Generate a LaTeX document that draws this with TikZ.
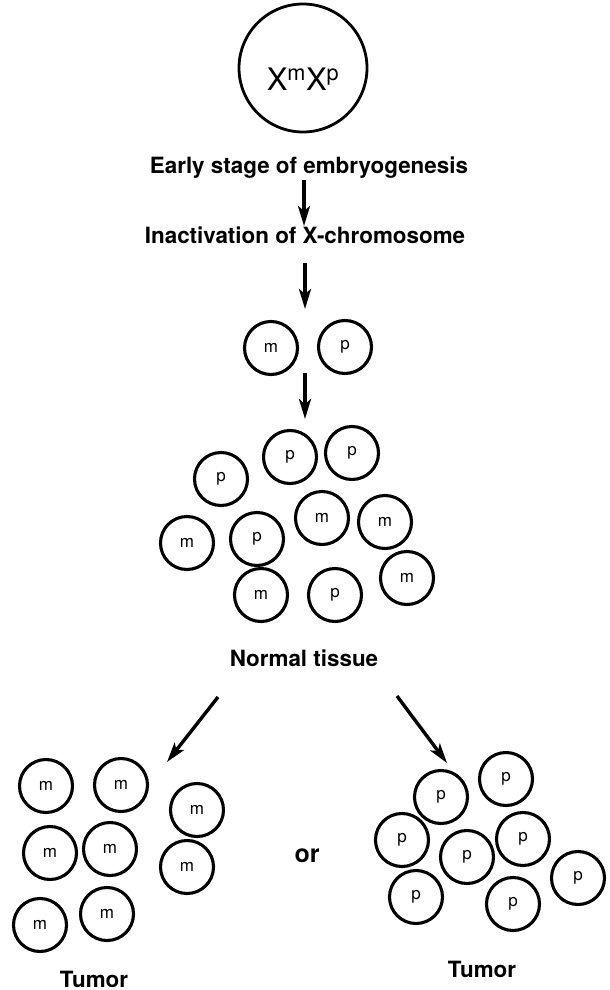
\documentclass[tikz,border=0pt]{standalone}
\usepackage{fontspec}
\setmainfont{TeX Gyre Heros}
\usetikzlibrary{arrows.meta}
\begin{document}
\begin{tikzpicture}[x=1pt,y=-1pt,
  cell/.style={draw,circle,line width=3.1pt,minimum size=53pt,inner sep=0pt,font=\fontsize{17}{17}\selectfont},
  lbl/.style={inner sep=0pt,anchor=base,font=\fontsize{22.4}{22.4}\selectfont\bfseries},
  arr/.style={line width=3.4pt,-{Stealth[length=20pt,width=12pt,inset=5pt]}}]
\useasboundingbox (0,0) rectangle (610,990);
% zygote
\node[draw,circle,line width=2.8pt,minimum size=128pt,inner sep=0pt] (zyg) at (303,68) {};
\node[inner sep=0pt,anchor=base,font=\fontsize{31}{31}\selectfont] (xx) at (303,90) {X\textsuperscript{m}X\textsuperscript{p}};
% labels
\node[lbl] (early) at (309,173) {Early stage of embryogenesis};
\node[lbl] (inact) at (305,243) {Inactivation of X-chromosome};
\node[lbl] (normal) at (304,666) {Normal tissue};
\node[lbl] (tumL) at (94,987) {Tumor};
\node[lbl] (tumR) at (482,977) {Tumor};
\node[inner sep=0pt,anchor=base,font=\fontsize{25}{25}\selectfont\bfseries] (or) at (307,862) {or};
% first pair
\node[cell] (m0) at (271,348) {m};
\node[cell] (p0) at (345,347) {p};
% normal tissue
\node[cell] (n1) at (290,457) {p};
\node[cell] (n2) at (352,453) {p};
\node[cell] (n3) at (221,479) {p};
\node[cell] (n4) at (322,518) {m};
\node[cell] (n5) at (385,522) {m};
\node[cell] (n6) at (187,543) {m};
\node[cell] (n7) at (257,539) {p};
\node[cell] (n8) at (261,595) {m};
\node[cell] (n9) at (335,595) {p};
\node[cell] (n10) at (407,578) {m};
% left tumor
\node[cell] (l1) at (46,786) {m};
\node[cell] (l2) at (121,785) {m};
\node[cell] (l3) at (197,810) {m};
\node[cell] (l4) at (50,853) {m};
\node[cell] (l5) at (110,849) {m};
\node[cell] (l6) at (187,867) {m};
\node[cell] (l7) at (40,925) {m};
\node[cell] (l8) at (107,914) {m};
% right tumor
\node[cell] (r1) at (441,797) {p};
\node[cell] (r2) at (506,779) {p};
\node[cell] (r3) at (402,840) {p};
\node[cell] (r4) at (467,857) {p};
\node[cell] (r5) at (523,839) {p};
\node[cell] (r6) at (416,897) {p};
\node[cell] (r7) at (513,904) {p};
\node[cell] (r8) at (578,878) {p};
% arrow end points
\coordinate (a1s) at (304,180);
\coordinate (a1e) at (304,226);
\coordinate (a2s) at (305,263);
\coordinate (a2e) at (305,309);
\coordinate (a3s) at (305,373);
\coordinate (a3e) at (305,419);
\coordinate (a4s) at (218,697);
\coordinate (a4e) at (167,762);
\coordinate (a5s) at (397,696);
\coordinate (a5e) at (447,763);
\draw[arr] (a1s) -- (a1e);
\draw[arr] (a2s) -- (a2e);
\draw[arr] (a3s) -- (a3e);
\draw[arr] (a4s) -- (a4e);
\draw[arr] (a5s) -- (a5e);
\end{tikzpicture}
\end{document}
